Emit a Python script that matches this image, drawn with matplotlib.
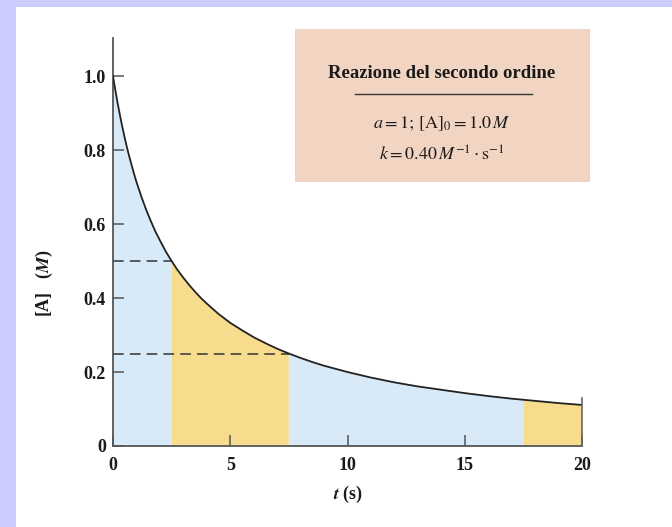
import matplotlib
matplotlib.use("Agg")
import matplotlib.pyplot as plt
from matplotlib.patches import Rectangle
import numpy as np

plt.rcParams['font.family'] = ['Liberation Serif', 'DejaVu Serif']
plt.rcParams['mathtext.fontset'] = 'stix'

# data: [A] vs t for second-order reaction
t_s = [0, 0.1, 0.2, 0.3, 0.4, 0.5, 0.6, 0.7, 0.8, 0.9, 1.0, 1.2, 1.4, 1.6, 1.8, 2.0,
       2.25, 2.5, 2.75, 3.0, 3.25, 3.5, 3.75, 4.0, 4.5, 5.0, 5.5, 6.0, 6.5, 7.0, 7.5,
       8.0, 8.5, 9.0, 10, 11, 12, 13, 14, 15, 16, 17, 17.5, 18, 19, 20]
conc = [1.000, 0.962, 0.926, 0.893, 0.862, 0.833, 0.806, 0.781, 0.758, 0.735, 0.714,
        0.676, 0.641, 0.610, 0.581, 0.556, 0.526, 0.500, 0.476, 0.455, 0.435, 0.417,
        0.400, 0.385, 0.357, 0.333, 0.313, 0.294, 0.278, 0.263, 0.250, 0.238, 0.227,
        0.217, 0.200, 0.185, 0.172, 0.161, 0.152, 0.143, 0.135, 0.128, 0.125, 0.122,
        0.116, 0.111]
band_edges = [0, 2.5, 7.5, 17.5, 20]
band_colors = ['#d8eaf7', '#f6dc8c', '#d8eaf7', '#f6dc8c']
half_times = [2.5, 7.5]
half_conc = [0.50, 0.25]
x_ticks = [0, 5, 10, 15, 20]
y_ticks = [0, 0.2, 0.4, 0.6, 0.8, 1.0]
y_ticklabels = ['0', '0.2', '0.4', '0.6', '0.8', '1.0']

W, H = 672, 527
fig = plt.figure(figsize=(W / 100, H / 100), dpi=100)
fig.patch.set_facecolor('#ccccff')
fig.patches.append(Rectangle((16 / W, 0), 1, 1 - 7 / H, transform=fig.transFigure,
                             facecolor='white', edgecolor='none', zorder=-10))

ax = fig.add_axes([113 / W, 1 - 446 / H, (582 - 113) / W, (446 - 38) / H])
ax.set_facecolor('none')

t_arr = np.array(t_s)
c_arr = np.array(conc)
for i in range(len(band_edges) - 1):
    m = (t_arr >= band_edges[i]) & (t_arr <= band_edges[i + 1])
    ax.fill_between(t_arr[m], 0, c_arr[m], facecolor=band_colors[i], edgecolor='none',
                    zorder=1)
ax.plot(t_s, conc, color='#222222', lw=1.3, zorder=3)
# right edge line
ax.plot([band_edges[-1], band_edges[-1]], [0, conc[-1] + 0.02], color='#666666', lw=1.2,
        zorder=3, clip_on=False)

for th, ch in zip(half_times, half_conc):
    ax.plot([0, th], [ch, ch], color='#333333', lw=1.1, dashes=(7, 4), zorder=2)

ax.set_xlim(0, 20)
ax.set_ylim(0, 1.103)
for s in ['top', 'right']:
    ax.spines[s].set_visible(False)
for s in ['left', 'bottom']:
    ax.spines[s].set_color('#555555')
    ax.spines[s].set_linewidth(1.3)
ax.spines['bottom'].set_bounds(0, 20)

ax.set_xticks(x_ticks)
ax.set_yticks(y_ticks)
ax.set_yticklabels(y_ticklabels)
ax.tick_params(direction='in', length=8, width=1.1, color='#555555', labelsize=13)
ax.tick_params(axis='x', pad=8)
ax.tick_params(axis='y', pad=5)
for lab in ax.get_xticklabels() + ax.get_yticklabels():
    lab.set_fontweight('bold')
    lab.set_color('#1a1a1a')

fig.text(348 / W, 1 - 494 / H, r'$\boldsymbol{t}$ (s)', fontsize=13, fontweight='bold',
         ha='center', va='center', color='#1a1a1a')
fig.text(44 / W, 1 - 283 / H, r'[A]   ($\boldsymbol{M}$)', fontsize=13,
         fontweight='bold', ha='center', va='center', rotation=90, color='#1a1a1a')

# annotation box
fig.patches.append(Rectangle((295 / W, 1 - 182 / H), (590 - 295) / W, (182 - 29) / H,
                             transform=fig.transFigure, facecolor='#f2d4c3',
                             edgecolor='none', zorder=5))
fig.text(442 / W, 1 - 73 / H, 'Reazione del secondo ordine', fontsize=13.5,
         fontweight='bold', ha='center', va='center', color='#1a1a1a', zorder=6)
fig.add_artist(plt.Line2D([355 / W, 532 / W], [1 - 94 / H, 1 - 94 / H],
                          transform=fig.transFigure, color='#333333', lw=1.0, zorder=6))
fig.text(442 / W, 1 - 124 / H, r'$a = 1;\,[\mathrm{A}]_0 = 1.0\,M$', fontsize=13,
         ha='center', va='center', color='#1a1a1a', zorder=6)
fig.text(442 / W, 1 - 155 / H, r'$k = 0.40\,M^{-1}\cdot\mathrm{s}^{-1}$', fontsize=13,
         ha='center', va='center', color='#1a1a1a', zorder=6)

fig.savefig('out.png', dpi=100, facecolor=fig.get_facecolor())
